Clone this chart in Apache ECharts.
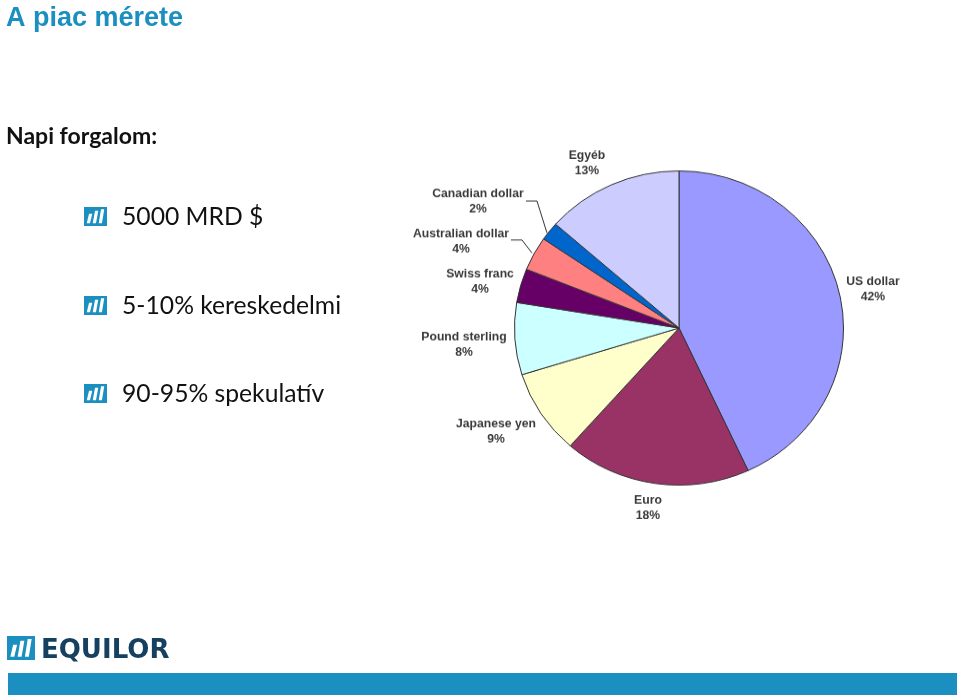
<!DOCTYPE html>
<html><head><meta charset="utf-8">
<style>html,body{margin:0;padding:0;background:#fff;overflow:hidden}
#c,#p{position:absolute;left:0;top:0;width:960px;height:697px}
#p{transform-origin:0 328px;transform:scaleY(0.955)}</style>
<script src="https://cdn.jsdelivr.net/npm/echarts@6/dist/echarts.min.js"></script>
</head><body><div id="c"></div><div id="p"></div>
<script>
const currencies = ['US dollar','Euro','Japanese yen','Pound sterling','Swiss franc','Australian dollar','Canadian dollar','Egyéb'];
const sliceShares = [43.1,18.4,8.7,7.4,3.5,3.5,1.9,13.5];
const printedPercents = ['42%','18%','9%','8%','4%','4%','2%','13%'];
const sliceColors = ['#9999FF','#993366','#FFFFCC','#CCFFFF','#660066','#FF8080','#0066CC','#CCCCFF'];
const bullets = ['5000 MRD $','5-10% kereskedelmi','90-95% spekulatív'];

const SQUASH = 0.955, CY = 328;
const unsquash = y => CY + (y - CY) / SQUASH;
const labelCentres = [[873,289.5],[648,508.5],[496,431.5],[464,344.5],[480,281.5],[461,241.5],[478,201.5],[587,163.5]];
const leaders = {5:[[532,253],[522,240],[511,240]],6:[[547,233],[537,201],[526,201]]};

const BLUE = '#1a8fc0';
function icon(x,y,w,h){
  const bar=(bx,top)=>({type:'polygon',shape:{points:[[x+bx*w+0.1*w,y+top*h],[x+bx*w+0.24*w,y+top*h],[x+bx*w+0.14*w,y+0.86*h],[x+bx*w,y+0.86*h]]},style:{fill:'#fff'}});
  return [{type:'rect',shape:{x,y,width:w,height:h},style:{fill:BLUE}},bar(0.12,0.36),bar(0.38,0.2),bar(0.64,0.12)];
}
const txt=(x,y,text,font,fill)=>({type:'text',x,y,style:{text,font,fill,textVerticalAlign:'middle'}});
const elements=[
  txt(6,19,'A piac mérete','bold 27px "Liberation Sans"',BLUE),
  txt(6,137,'Napi forgalom:','bold 23px Lato','#111'),
  ...[217,306,394].flatMap((yy,i)=>[...icon(84,yy-10,23,19),txt(122,yy,bullets[i],'24.7px Lato','#111')]),
  ...icon(7,636,28,24),
  txt(41,651,'EQUILOR','bold 26px "DejaVu Sans"','#15405f'),
  {type:'rect',shape:{x:8,y:673,width:949,height:22},style:{fill:BLUE}}
];
const back=echarts.init(document.getElementById('c'));
back.setOption({animation:false,graphic:{elements}});

const chart=echarts.init(document.getElementById('p'));
chart.setOption({
  animation:false,
  series:[{
    type:'pie',center:[679,CY],radius:[0,164.5],startAngle:90,clockwise:true,
    minShowLabelAngle:0,avoidLabelOverlap:false,
    itemStyle:{borderColor:'#333',borderWidth:1},
    label:{show:true,position:'outside',
      formatter:p=>p.name+'\n'+printedPercents[p.dataIndex],
      fontFamily:'Liberation Sans',fontWeight:'bold',fontSize:12.2,lineHeight:16,color:'#3a3a3a',align:'center',verticalAlign:'middle'},
    labelLayout:p=>{
      const i=p.dataIndex,o={x:labelCentres[i][0],y:unsquash(labelCentres[i][1]),align:'center',verticalAlign:'middle'};
      if(leaders[i]) o.labelLinePoints=leaders[i].map(([x,y])=>[x,unsquash(y)]);
      return o;
    },
    data:currencies.map((name,i)=>({
      name,value:sliceShares[i],
      itemStyle:{color:sliceColors[i]},
      labelLine:{show:!!leaders[i],lineStyle:{color:'#333',width:1}}
    }))
  }]
});
</script></body></html>
